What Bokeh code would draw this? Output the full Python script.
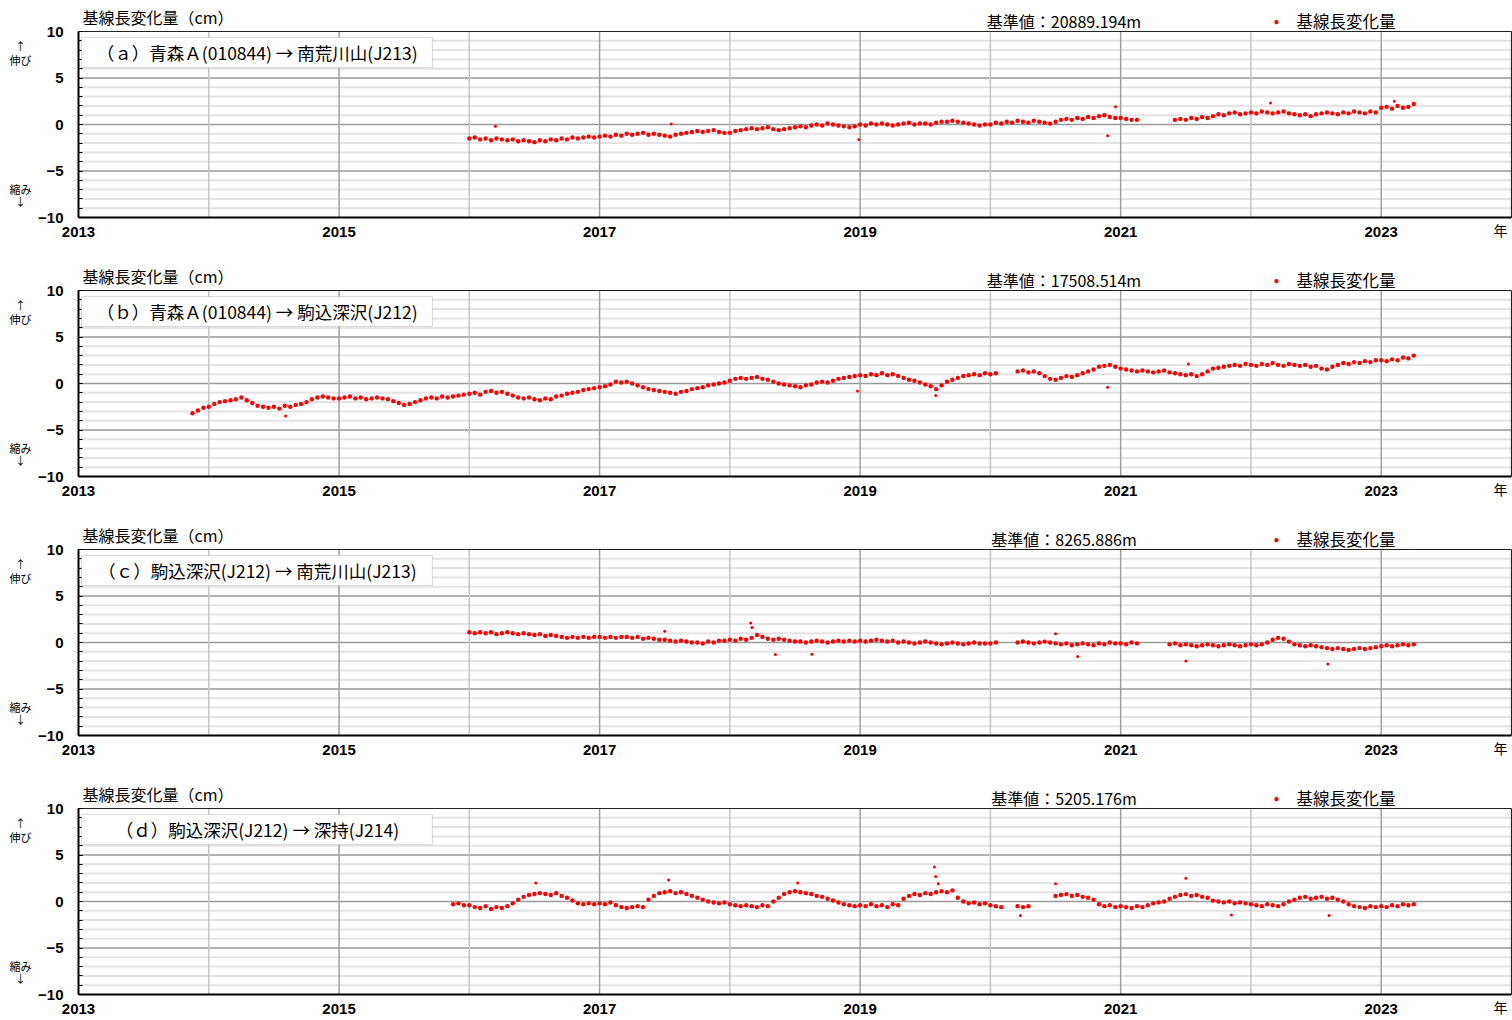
import numpy as np
from bokeh.plotting import figure
from bokeh.models import FixedTicker, Label, BoxAnnotation, Range1d
from bokeh.layouts import column
from bokeh.embed import file_html
from bokeh.resources import INLINE

FONT = "Noto Sans CJK JP"
NUM_FONT = "Liberation Sans"
RED = "#ff0000"

# ---------------- axes / ticks ----------------
year_ticks = list(range(2013, 2025))
year_labels = {y: (str(y) if (y % 2 == 1 and y < 2024) else "") for y in year_ticks}
cm_ticks = [-10, -5, 0, 5, 10]
cm_minor = list(range(-10, 11))
cm_labels = {-10: "−10", -5: "−5", 0: "0", 5: "5", 10: "10"}

y_title = "基線長変化量（cm）"
legend_text = "基線長変化量"
up_arrow, up_text = "↑", "伸び"
down_text, down_arrow = "縮み", "↓"
year_unit = "年"

titles = [
    "（ａ）青森Ａ(010844) → 南荒川山(J213)",
    "（ｂ）青森Ａ(010844) → 駒込深沢(J212)",
    "（ｃ）駒込深沢(J212) → 南荒川山(J213)",
    "（ｄ）駒込深沢(J212) → 深持(J214)",
]
base_values = [
    "基準値：20889.194m",
    "基準値：17508.514m",
    "基準値：8265.886m",
    "基準値：5205.176m",
]

# ---------------- data (cm), semi-monthly readings, None = no data ----------------
sample_step = 1.0 / 24.0

a_start = 2016.0
a_values = [
    -1.5, -1.4, -1.6, -1.5, -1.7, -1.5, -1.6, -1.7, -1.6, -1.8, -1.7, -1.8, -1.9, -1.7, -1.8, -1.6, -1.7, -1.5, -1.6, -1.4, -1.5, -1.4, -1.3, -1.4,
    -1.3, -1.2, -1.3, -1.1, -1.2, -1.0, -1.1, -1.0, -0.9, -1.1, -1.0, -1.1, -1.2, -1.3, -1.1, -1.0, -0.9, -0.8, -0.7, -0.8, -0.7, -0.6, -0.8, -0.9,
    -0.9, -0.7, -0.6, -0.5, -0.4, -0.5, -0.4, -0.3, -0.5, -0.6, -0.5, -0.4, -0.3, -0.2, -0.3, -0.1, 0.0, -0.1, 0.1, 0.0, -0.1, -0.2, -0.3, -0.2,
    0.0, -0.1, 0.1, 0.0, 0.1, 0.0, -0.1, 0.0, 0.1, 0.2, 0.0, 0.1, 0.1, 0.0, 0.2, 0.3, 0.3, 0.4, 0.3, 0.2, 0.1, 0.0, -0.1, 0.0,
    0.0, 0.2, 0.1, 0.3, 0.2, 0.4, 0.3, 0.2, 0.4, 0.3, 0.2, 0.1, 0.3, 0.5, 0.6, 0.5, 0.7, 0.6, 0.8, 0.7, 0.9, 1.0, 0.8, 0.7,
    0.7, 0.6, 0.5, 0.5, None, None, None, None, None, None, 0.5, 0.6, 0.5, 0.7, 0.6, 0.8, 0.7, 0.9, 1.1, 1.0, 1.2, 1.3, 1.1, 1.2,
    1.3, 1.2, 1.4, 1.3, 1.2, 1.3, 1.4, 1.2, 1.1, 1.0, 1.1, 0.9, 1.1, 1.2, 1.3, 1.2, 1.1, 1.3, 1.2, 1.4, 1.3, 1.2, 1.4, 1.3,
    1.8, 1.9, 1.7, 2.0, 1.8, 1.9, 2.2,
]
a_out_x = [2016.2, 2017.55, 2018.99, 2020.90, 2020.96, 2022.15, 2023.10]
a_out_y = [-0.2, 0.05, -1.6, -1.2, 1.9, 2.3, 2.5]

b_start = 2013.875
b_values = [
    -3.2, -2.9, -2.6,
    -2.5, -2.2, -2.0, -1.9, -1.8, -1.7, -1.5, -1.8, -2.1, -2.4, -2.5, -2.6, -2.5, -2.7, -2.4, -2.5, -2.3, -2.2, -2.0, -1.7, -1.5, -1.4, -1.5, -1.6,
    -1.6, -1.5, -1.4, -1.6, -1.5, -1.7, -1.6, -1.5, -1.6, -1.7, -1.9, -2.1, -2.3, -2.2, -2.0, -1.8, -1.6, -1.5, -1.6, -1.4, -1.5, -1.4, -1.3, -1.2,
    -1.1, -1.0, -1.2, -0.9, -0.8, -1.0, -0.9, -1.1, -1.3, -1.5, -1.6, -1.5, -1.7, -1.8, -1.6, -1.7, -1.4, -1.3, -1.1, -1.0, -0.9, -0.7, -0.6, -0.5,
    -0.4, -0.3, -0.1, 0.2, 0.1, 0.2, 0.0, -0.2, -0.4, -0.6, -0.7, -0.8, -0.9, -1.0, -1.1, -0.9, -0.8, -0.6, -0.5, -0.4, -0.2, -0.1, 0.0, 0.1,
    0.3, 0.5, 0.6, 0.5, 0.6, 0.7, 0.5, 0.4, 0.2, 0.0, -0.1, -0.2, -0.3, -0.4, -0.2, -0.1, 0.1, 0.2, 0.1, 0.3, 0.5, 0.6, 0.7, 0.8,
    0.9, 0.8, 1.0, 0.9, 1.1, 0.9, 1.0, 0.8, 0.6, 0.4, 0.3, 0.1, -0.1, -0.3, -0.6, -0.2, 0.2, 0.4, 0.6, 0.8, 0.9, 1.0, 0.9, 1.1,
    1.0, 1.1, None, None, None, 1.3, 1.4, 1.2, 1.3, 1.1, 0.8, 0.5, 0.4, 0.6, 0.8, 0.7, 0.9, 1.1, 1.3, 1.5, 1.8, 1.9, 2.0, 1.8,
    1.6, 1.5, 1.4, 1.3, 1.4, 1.3, 1.2, 1.3, 1.4, 1.2, 1.1, 1.0, 0.9, 1.0, 0.8, 1.0, 1.3, 1.6, 1.7, 1.8, 1.9, 2.0, 1.9, 2.1,
    2.0, 1.9, 2.1, 2.0, 2.2, 2.0, 1.9, 2.1, 2.0, 1.9, 2.0, 1.8, 1.9, 1.6, 1.5, 1.8, 2.0, 2.2, 2.1, 2.3, 2.2, 2.4, 2.3, 2.5,
    2.5, 2.4, 2.6, 2.5, 2.8, 2.7, 3.0,
]
b_out_x = [2014.59, 2018.98, 2019.58, 2020.90, 2021.52]
b_out_y = [-3.5, -0.8, -1.3, -0.4, 2.1]

c_start = 2016.0
c_values = [
    1.1, 1.0, 1.1, 1.0, 1.1, 0.9, 1.0, 1.1, 1.0, 0.9, 1.0, 0.9, 0.8, 0.9, 0.7, 0.8, 0.7, 0.6, 0.5, 0.6, 0.5, 0.6, 0.5, 0.6,
    0.6, 0.5, 0.6, 0.5, 0.6, 0.6, 0.5, 0.6, 0.4, 0.5, 0.4, 0.3, 0.3, 0.2, 0.1, 0.2, 0.1, 0.0, 0.0, -0.1, 0.1, 0.0, 0.2, 0.2,
    0.3, 0.2, 0.4, 0.3, 0.5, 0.8, 0.6, 0.4, 0.3, 0.4, 0.3, 0.2, 0.1, 0.1, 0.0, 0.1, 0.2, 0.1, 0.0, 0.1, 0.2, 0.1, 0.2, 0.1,
    0.2, 0.1, 0.2, 0.3, 0.2, 0.1, 0.2, 0.0, 0.1, 0.0, -0.1, 0.0, 0.1, 0.0, -0.1, -0.2, -0.1, 0.0, -0.1, -0.2, -0.1, 0.0, -0.1, -0.1,
    -0.1, 0.0, None, None, None, 0.0, 0.1, 0.0, -0.1, 0.0, 0.1, 0.0, -0.1, -0.2, -0.1, -0.3, -0.2, -0.1, -0.2, -0.3, -0.1, -0.2, 0.0, -0.1,
    -0.1, -0.2, 0.0, -0.1, None, None, None, None, None, -0.2, -0.1, -0.3, -0.2, -0.3, -0.4, -0.3, -0.2, -0.3, -0.4, -0.3, -0.2, -0.3, -0.4, -0.3,
    -0.2, -0.3, -0.2, 0.0, 0.3, 0.5, 0.4, 0.1, -0.2, -0.3, -0.4, -0.3, -0.4, -0.5, -0.6, -0.7, -0.6, -0.7, -0.8, -0.7, -0.6, -0.7, -0.6, -0.5,
    -0.4, -0.3, -0.4, -0.3, -0.2, -0.3, -0.2,
]
c_out_x = [2017.50, 2018.16, 2018.17, 2018.35, 2018.63, 2020.50, 2020.67, 2021.50, 2022.59]
c_out_y = [1.2, 2.1, 1.6, -1.3, -1.25, 0.95, -1.5, -2.0, -2.3]

d_start = 2015.875
d_values = [
    -0.3, -0.2, -0.4,
    -0.4, -0.6, -0.7, -0.5, -0.8, -0.6, -0.7, -0.5, -0.2, 0.2, 0.5, 0.7, 0.8, 0.9, 0.8, 0.7, 0.9, 0.6, 0.4, 0.1, -0.2, -0.3, -0.2, -0.3,
    -0.2, -0.3, -0.1, -0.4, -0.6, -0.7, -0.6, -0.5, -0.6, 0.2, 0.6, 0.9, 1.0, 1.1, 0.9, 1.0, 0.8, 0.6, 0.4, 0.2, 0.0, -0.1, -0.2, -0.1,
    -0.3, -0.4, -0.5, -0.4, -0.5, -0.6, -0.4, -0.5, 0.0, 0.4, 0.8, 1.0, 1.1, 1.0, 0.9, 0.8, 0.6, 0.5, 0.3, 0.1, -0.1, -0.3, -0.4, -0.5,
    -0.4, -0.5, -0.3, -0.5, -0.4, -0.6, -0.3, -0.4, 0.3, 0.6, 0.8, 0.7, 0.9, 0.8, 1.0, 1.1, 1.0, 1.2, 0.4, 0.0, -0.2, -0.1, -0.3, -0.2,
    -0.4, -0.5, -0.6, None, None, -0.5, -0.6, -0.5, None, None, None, None, 0.6, 0.7, 0.8, 0.6, 0.7, 0.5, 0.4, 0.2, -0.3, -0.5, -0.4, -0.6,
    -0.5, -0.6, -0.7, -0.5, -0.6, -0.4, -0.2, -0.1, 0.0, 0.3, 0.5, 0.7, 0.8, 0.6, 0.7, 0.5, 0.4, 0.1, 0.0, -0.1, 0.0, -0.2, -0.1, -0.2,
    -0.3, -0.4, -0.5, -0.3, -0.4, -0.5, -0.3, 0.0, 0.2, 0.4, 0.5, 0.3, 0.4, 0.5, 0.3, 0.4, 0.2, 0.0, -0.3, -0.5, -0.6, -0.7, -0.5, -0.6,
    -0.5, -0.6, -0.4, -0.5, -0.3, -0.4, -0.3,
]
d_out_x = [2016.51, 2017.53, 2018.52, 2019.57, 2019.58, 2019.60, 2020.23, 2020.50, 2021.50, 2021.85, 2022.60]
d_out_y = [2.0, 2.3, 2.0, 3.7, 2.7, 1.9, -1.5, 1.9, 2.5, -1.45, -1.5]

series = [
    (a_start, a_values, a_out_x, a_out_y),
    (b_start, b_values, b_out_x, b_out_y),
    (c_start, c_values, c_out_x, c_out_y),
    (d_start, d_values, d_out_x, d_out_y),
]

# ---------------- layout constants (pixels) ----------------
W = 1512
PANEL_H = 259
LAST_H = 1020 - 3 * PANEL_H
LEFT, RIGHT_EDGE, TOP, FRAME_H = 78, 1511, 31, 186
X0, X1, Y0, Y1 = 2013, 2024, -10, 10
PX_PER_YEAR = (RIGHT_EDGE - LEFT) / (X1 - X0)
PX_PER_CM = FRAME_H / (Y1 - Y0)


def xo(px):  # pixels right of plot-area left edge -> year
    return X0 + px / PX_PER_YEAR


def yo(px):  # pixels below plot-area top edge -> cm
    return Y1 - px / PX_PER_CM


def add_text(p, x, y, text, size, color="black", align="left", font=FONT):
    p.add_layout(Label(x=x, y=y, text=text, text_align=align, text_baseline="middle",
                       text_font=font, text_font_size=size, text_color=color))


figs = []
for i, (start, vals, ox, oy) in enumerate(series):
    H = LAST_H if i == len(series) - 1 else PANEL_H
    p = figure(width=W, height=H,
               x_range=Range1d(xo(-LEFT), xo(W - LEFT)),
               y_range=Range1d(yo(H - TOP), yo(-TOP)),
               output_backend="svg", toolbar_location=None, tools="",
               min_border=0, min_border_left=0, min_border_right=0,
               min_border_top=0, min_border_bottom=0)
    p.background_fill_color = "white"
    p.border_fill_color = "white"
    p.outline_line_color = None
    p.xgrid.visible = False
    p.ygrid.visible = False

    # grid lines of the plot area
    minor_y = [v for v in cm_minor if v % 5 != 0]
    p.segment(x0=[X0] * len(minor_y), x1=[X1] * len(minor_y), y0=minor_y, y1=minor_y,
              line_color="#e4e4e4", line_width=2)
    major_y = [v for v in cm_ticks if Y0 < v < Y1]
    p.segment(x0=[X0] * len(major_y), x1=[X1] * len(major_y), y0=major_y, y1=major_y,
              line_color="#9a9a9a", line_width=1.3)
    even_x = [v for v in year_ticks if v % 2 == 0 and X0 < v < X1]
    odd_x = [v for v in year_ticks if v % 2 == 1 and X0 < v < X1]
    p.segment(x0=even_x, x1=even_x, y0=[Y0] * len(even_x), y1=[Y1] * len(even_x),
              line_color="#c4c4c4", line_width=1.5)
    p.segment(x0=odd_x, x1=odd_x, y0=[Y0] * len(odd_x), y1=[Y1] * len(odd_x),
              line_color="#a0a0a0", line_width=1.5)
    # top and right border
    p.segment(x0=[X0, X1], x1=[X1, X1], y0=[Y1, Y0], y1=[Y1, Y1],
              line_color="#222222", line_width=1.2)

    # x axis
    p.xaxis.fixed_location = Y0
    p.xaxis.bounds = (X0, X1)
    p.xaxis.ticker = FixedTicker(ticks=year_ticks)
    p.xaxis.major_label_overrides = year_labels
    p.xaxis.major_tick_in = 0
    p.xaxis.major_tick_out = 0
    p.xaxis.minor_tick_line_color = None
    p.xaxis.axis_line_width = 2
    p.xaxis.axis_line_color = "black"
    p.xaxis.major_label_standoff = 9
    p.xaxis.major_label_text_font = NUM_FONT
    p.xaxis.major_label_text_font_style = "bold"
    p.xaxis.major_label_text_font_size = "15px"
    p.xaxis.major_label_text_color = "black"

    # y axis
    p.yaxis.fixed_location = X0
    p.yaxis.bounds = (Y0, Y1)
    p.yaxis.ticker = FixedTicker(ticks=cm_ticks, minor_ticks=cm_minor)
    p.yaxis.major_label_overrides = cm_labels
    p.yaxis.major_tick_in = 4
    p.yaxis.major_tick_out = 0
    p.yaxis.minor_tick_in = 4
    p.yaxis.minor_tick_out = 0
    p.yaxis.axis_line_width = 2
    p.yaxis.axis_line_color = "black"
    p.yaxis.major_label_standoff = 15
    p.yaxis.major_label_text_font = NUM_FONT
    p.yaxis.major_label_text_font_style = "bold"
    p.yaxis.major_label_text_font_size = "15px"
    p.yaxis.major_label_text_color = "black"

    # data
    xs = start + np.arange(len(vals)) * sample_step
    ys = np.array([np.nan if v is None else v for v in vals], dtype=float)
    p.scatter(xs, ys, size=4.4, color=RED, line_color=None, marker="circle")
    p.scatter(ox, oy, size=3.0, color=RED, line_color=None, marker="circle")

    # title box
    box = BoxAnnotation(left=xo(3), right=xo(354), top=yo(6), bottom=yo(36),
                        fill_color="white", fill_alpha=1.0,
                        line_color="#8a8a8a", line_width=1.2, level="annotation")
    p.add_layout(box)
    add_text(p, (xo(3) + xo(354)) / 2, (yo(6) + yo(36)) / 2, titles[i], "17.5px", align="center")

    # texts above the plot area
    add_text(p, xo(4), yo(-15), y_title, "16px")
    add_text(p, xo(985.5), yo(-11), base_values[i], "16px", align="center")
    add_text(p, xo(1198), yo(-12), "•", "16px", color=RED, align="center")
    add_text(p, xo(1267.5), yo(-11), legend_text, "16.5px", align="center")

    # side annotations
    for txt, dy in [(up_arrow, 14), (up_text, 28), (down_text, 157), (down_arrow, 169)]:
        add_text(p, xo(-58), yo(dy), txt, "11px", align="center")
    add_text(p, xo(1422), yo(FRAME_H + 12), year_unit, "14px", align="center")
    figs.append(p)

layout = column(*figs, spacing=0)
open("out.html", "w").write(file_html(layout, INLINE))
